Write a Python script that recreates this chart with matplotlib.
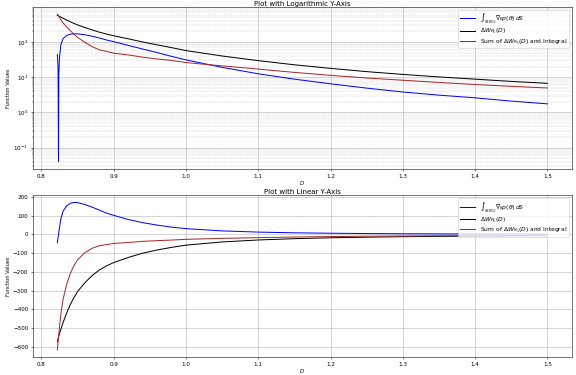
import numpy as np
import matplotlib
matplotlib.use("Agg")
import matplotlib.pyplot as plt

# sample positions D
D = [0.822, 0.8225, 0.823, 0.8236, 0.824, 0.825, 0.827, 0.830, 0.835, 0.840,
     0.845, 0.850, 0.860, 0.870, 0.880, 0.890, 0.900, 0.920, 0.940, 0.960,
     0.980, 1.000, 1.050, 1.100, 1.150, 1.200, 1.250, 1.300, 1.350, 1.400,
     1.450, 1.500]

# integral term
integral = [-44, -30, -17, 0.04, 11, 37, 85, 125, 153, 166,
            171, 170, 160, 146, 130, 114, 102, 80, 63, 50,
            39, 31, 19, 12.5, 8.8, 6.5, 4.9, 3.8, 3.1, 2.6,
            2.1, 1.75]

# delta W
delta_w = [-573, -565, -558, -549, -543, -530, -505, -470, -418, -374,
           -337, -305, -258, -220, -190, -168, -150, -123, -100, -83,
           -69, -57, -40, -29.5, -22.5, -17.8, -14.4, -12.0, -10.2, -8.8,
           -7.6, -6.7]

# sum of both
total = [-617, -595, -575, -549, -532, -493, -420, -345, -265, -208,
         -166, -135, -98, -74, -60, -54, -48, -43, -37, -33,
         -30, -26, -21, -17, -13.7, -11.3, -9.5, -8.2, -7.1, -6.2,
         -5.5, -4.95]

lab_int = r'$\int_{S(R_1)} \nabla_\theta p(\theta)\, dS$'
lab_dw = r'$\Delta W_{R_1}(D)$'
lab_sum = r'Sum of $\Delta W_{R_1}(D)$ and Integral'

plt.rcParams['xtick.labelsize'] = 8.5
plt.rcParams['ytick.labelsize'] = 8.5

fig, (ax1, ax2) = plt.subplots(2, 1, figsize=(12, 7.8125), dpi=48)

leg_kw = dict(loc='upper right', fontsize=9, labelspacing=0.1,
              handlelength=2.5, borderpad=0.3)

# 对数坐标
ax1.plot(D, np.abs(integral), color='blue', label=lab_int)
ax1.plot(D, np.abs(delta_w), color='black', label=lab_dw)
ax1.plot(D, np.abs(total), color='brown', label=lab_sum)
ax1.set_yscale('log')
ax1.set_title('Plot with Logarithmic Y-Axis', fontsize=10.5, pad=1)
ax1.set_xlabel('$D$', fontsize=8, labelpad=0)
ax1.set_ylabel('Function Values', fontsize=7.5, labelpad=3)
ax1.grid(True, which='major', linewidth=0.8)
ax1.grid(True, which='minor', linestyle='--', linewidth=0.5)
ax1.legend(**leg_kw)

# 线性坐标
ax2.plot(D, integral, color='blue', label=lab_int)
ax2.plot(D, delta_w, color='black', label=lab_dw)
ax2.plot(D, total, color='brown', label=lab_sum)
ax2.set_title('Plot with Linear Y-Axis', fontsize=10.5, pad=1)
ax2.set_xlabel('$D$', fontsize=8, labelpad=0)
ax2.set_ylabel('Function Values', fontsize=7.5, labelpad=3)
ax2.grid(True)
ax2.legend(**leg_kw)

fig.subplots_adjust(left=0.057, right=0.993, top=0.982, bottom=0.047, hspace=0.16)
plt.savefig('out.png', dpi=48)
